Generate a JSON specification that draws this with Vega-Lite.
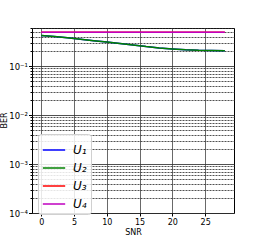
{
  "$schema": "https://vega.github.io/schema/vega-lite/v6.json",
  "autosize": "none",
  "width": 202,
  "height": 185,
  "padding": {"left": 32, "top": 28, "right": 26, "bottom": 27},
  "background": "white",
  "config": {
    "font": "DejaVu Sans",
    "view": {"stroke": "black", "strokeWidth": 1}
  },
  "data": {
    "values": [
      {"snr": 0, "ber": 0.42, "user": "U₁"}, {"snr": 2, "ber": 0.40, "user": "U₁"}, {"snr": 4, "ber": 0.38, "user": "U₁"}, {"snr": 6, "ber": 0.355, "user": "U₁"}, {"snr": 8, "ber": 0.33, "user": "U₁"}, {"snr": 10, "ber": 0.31, "user": "U₁"}, {"snr": 12, "ber": 0.29, "user": "U₁"}, {"snr": 14, "ber": 0.27, "user": "U₁"}, {"snr": 16, "ber": 0.25, "user": "U₁"}, {"snr": 18, "ber": 0.235, "user": "U₁"}, {"snr": 20, "ber": 0.224, "user": "U₁"}, {"snr": 22, "ber": 0.215, "user": "U₁"}, {"snr": 24, "ber": 0.21, "user": "U₁"}, {"snr": 26, "ber": 0.208, "user": "U₁"}, {"snr": 28, "ber": 0.207, "user": "U₁"},
      {"snr": 0, "ber": 0.42, "user": "U₂"}, {"snr": 2, "ber": 0.40, "user": "U₂"}, {"snr": 4, "ber": 0.38, "user": "U₂"}, {"snr": 6, "ber": 0.355, "user": "U₂"}, {"snr": 8, "ber": 0.33, "user": "U₂"}, {"snr": 10, "ber": 0.31, "user": "U₂"}, {"snr": 12, "ber": 0.29, "user": "U₂"}, {"snr": 14, "ber": 0.27, "user": "U₂"}, {"snr": 16, "ber": 0.25, "user": "U₂"}, {"snr": 18, "ber": 0.235, "user": "U₂"}, {"snr": 20, "ber": 0.224, "user": "U₂"}, {"snr": 22, "ber": 0.215, "user": "U₂"}, {"snr": 24, "ber": 0.21, "user": "U₂"}, {"snr": 26, "ber": 0.208, "user": "U₂"}, {"snr": 28, "ber": 0.207, "user": "U₂"},
      {"snr": 0, "ber": 0.49, "user": "U₃"}, {"snr": 4, "ber": 0.49, "user": "U₃"}, {"snr": 8, "ber": 0.49, "user": "U₃"}, {"snr": 12, "ber": 0.49, "user": "U₃"}, {"snr": 16, "ber": 0.49, "user": "U₃"}, {"snr": 20, "ber": 0.49, "user": "U₃"}, {"snr": 24, "ber": 0.49, "user": "U₃"}, {"snr": 28, "ber": 0.49, "user": "U₃"},
      {"snr": 0, "ber": 0.49, "user": "U₄"}, {"snr": 4, "ber": 0.49, "user": "U₄"}, {"snr": 8, "ber": 0.49, "user": "U₄"}, {"snr": 12, "ber": 0.49, "user": "U₄"}, {"snr": 16, "ber": 0.49, "user": "U₄"}, {"snr": 20, "ber": 0.49, "user": "U₄"}, {"snr": 24, "ber": 0.49, "user": "U₄"}, {"snr": 28, "ber": 0.49, "user": "U₄"}
    ]
  },
  "mark": {"type": "line", "strokeWidth": 1.5, "clip": true},
  "encoding": {
    "x": {
      "field": "snr", "type": "quantitative",
      "scale": {"domain": [-1.4, 29.4], "nice": false, "zero": false},
      "axis": {
        "title": "SNR", "titleFontSize": 8, "titleFontWeight": "normal", "titlePadding": 2,
        "values": [0, 5, 10, 15, 20, 25], "labelFontSize": 8, "labelColor": "black",
        "tickColor": "black", "tickSize": 3, "domain": false,
        "grid": true, "gridColor": "#444", "gridOpacity": 0.8, "gridWidth": 1
      }
    },
    "y": {
      "field": "ber", "type": "quantitative",
      "scale": {"type": "log", "domain": [0.0001, 0.6], "nice": false},
      "axis": {
        "title": "BER", "titleFontSize": 8, "titleFontWeight": "normal", "titleX": -24, "titleY": 92, "titleAnchor": "middle",
        "values": [0.0001, 0.0002, 0.0003, 0.0004, 0.0005, 0.0006, 0.0007, 0.0008, 0.0009, 0.001, 0.002, 0.003, 0.004, 0.005, 0.006, 0.007, 0.008, 0.009, 0.01, 0.02, 0.03, 0.04, 0.05, 0.06, 0.07, 0.08, 0.09, 0.1, 0.2, 0.3, 0.4, 0.5, 0.6],
        "labelExpr": "abs(datum.value-0.1)<1e-9 ? '10⁻¹' : abs(datum.value-0.01)<1e-10 ? '10⁻²' : abs(datum.value-0.001)<1e-11 ? '10⁻³' : abs(datum.value-0.0001)<1e-12 ? '10⁻⁴' : ''",
        "labelFontSize": 8.5, "labelColor": "black", "labelOverlap": false, "labelPadding": 1,
        "tickColor": "black", "tickSize": {"condition": {"test": "abs(log(datum.value)/LN10 - round(log(datum.value)/LN10)) > 0.001", "value": 2}, "value": 3.5},
        "domain": false,
        "grid": true, "gridColor": "#333", "gridOpacity": 0.85, "gridWidth": 1,
        "gridDash": {"condition": {"test": "abs(log(datum.value)/LN10 - round(log(datum.value)/LN10)) > 0.001", "value": [2, 1]}, "value": []}
      }
    },
    "color": {
      "field": "user", "type": "nominal",
      "scale": {"domain": ["U₁", "U₂", "U₃", "U₄"], "range": ["#0000ff", "#008000", "#ff0000", "#bf00bf"]},
      "legend": {
        "title": null, "orient": "none", "legendX": 6, "legendY": 106,
        "symbolType": "stroke", "symbolSize": 500, "symbolStrokeWidth": 1.5,
        "labelFontSize": 12, "labelFontStyle": "italic", "labelColor": "black", "labelFont": "DejaVu Sans", "labelOffset": 7,
        "rowPadding": -2, "fillColor": "rgba(255,255,255,0.85)", "strokeColor": "#d0d0d0",
        "cornerRadius": 3, "padding": 4
      }
    }
  }
}
